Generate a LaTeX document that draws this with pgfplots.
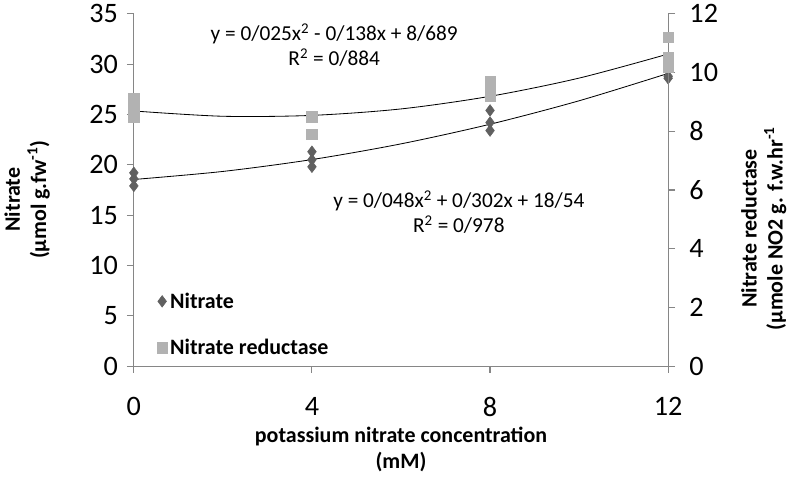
\documentclass[border=0pt]{standalone}
\usepackage{pgfplots}
\pgfplotsset{compat=1.18}
\usepackage{fontspec}
\setmainfont{Carlito}
\definecolor{nitr}{HTML}{606060}
\definecolor{nred}{HTML}{B2B2B2}
\definecolor{axgray}{HTML}{868686}
\pgfplotsset{
  base/.style={
    scale only axis, width=389pt, height=256.5pt,
    xmin=0, xmax=12, xtick={0,4,8,12},
    tick align=outside, major tick length=5pt,
    axis line style={axgray, line width=0.8pt},
    every tick/.style={axgray, line width=0.8pt},
    tick label style={font=\fontsize{20.5}{24}\selectfont},
    /pgf/number format/assume math mode=true,
    xticklabel shift=14pt, yticklabel shift=3pt,
    label style={font=\fontsize{16}{19}\selectfont\bfseries, align=center},
  },
}
\begin{document}
\begin{tikzpicture}
\begin{axis}[base,
    axis x line*=bottom, axis y line*=left,
    ymin=0, ymax=35, ytick={0,5,...,35},
    xlabel={potassium nitrate concentration\\(mM)},
    xlabel style={yshift=-1pt},
    ylabel={Nitrate\\(µmol  g.fw\textsuperscript{-1})},
    ylabel style={xshift=-7pt, yshift=22pt},
  ]
  % nitrate measurements
  \addplot[only marks, mark=diamond*, mark size=4.2pt, nitr] coordinates {
    (0,19.2) (0,18.6) (0,17.9)
    (4,21.3) (4,20.5) (4,19.8)
    (8,25.4) (8,24.2) (8,23.4)
    (12,28.8) (12,28.6)
  };
  % quadratic trend line
  \addplot[black, line width=0.6pt, smooth] coordinates {
    (0,18.54) (2,19.34) (4,20.52) (6,22.08) (8,24.03) (10,26.36) (12,29.08)
  };
  \node[font=\fontsize{15.5}{18.5}\selectfont, align=center] at (axis cs:4.5,31.9)
    {y = 0/025x\textsuperscript{2} - 0/138x + 8/689\\R\textsuperscript{2} = 0/884};
  \node[font=\fontsize{15.5}{18.5}\selectfont, align=center] at (axis cs:7.3,15.3)
    {y = 0/048x\textsuperscript{2} + 0/302x + 18/54\\R\textsuperscript{2} = 0/978};
\end{axis}
\begin{axis}[base,
    axis x line=none, axis y line*=right,
    ymin=0, ymax=12, ytick={0,2,...,12},
    yticklabel shift=7pt,
    ylabel={Nitrate reductase\\(µmole NO2 g. f.w.hr\textsuperscript{-1}},
    ylabel style={xshift=-28pt, yshift=-10pt},
    legend style={at={(0.035,0.225)}, anchor=north west, draw=none, fill=none,
      font=\fontsize{16}{19}\selectfont\bfseries, row sep=17pt,
      legend cell align=left},
  ]
  \addlegendimage{only marks, mark=diamond*, mark size=4.2pt, nitr}
  \addlegendentry{Nitrate}
  \addplot[only marks, mark=square*, mark size=3.8pt, nred] coordinates {
    (0,9.1) (0,8.8) (0,8.5)
    (4,8.5) (4,7.9)
    (8,9.7) (8,9.5) (8,9.2)
    (12,11.2) (12,10.5) (12,10.2)
  };
  \addlegendentry{Nitrate reductase}
  \addplot[black, line width=0.6pt, smooth, forget plot] coordinates {
    (0,8.69) (2,8.51) (4,8.54) (6,8.76) (8,9.19) (10,9.81) (12,10.63)
  };
\end{axis}
\end{tikzpicture}
\end{document}
